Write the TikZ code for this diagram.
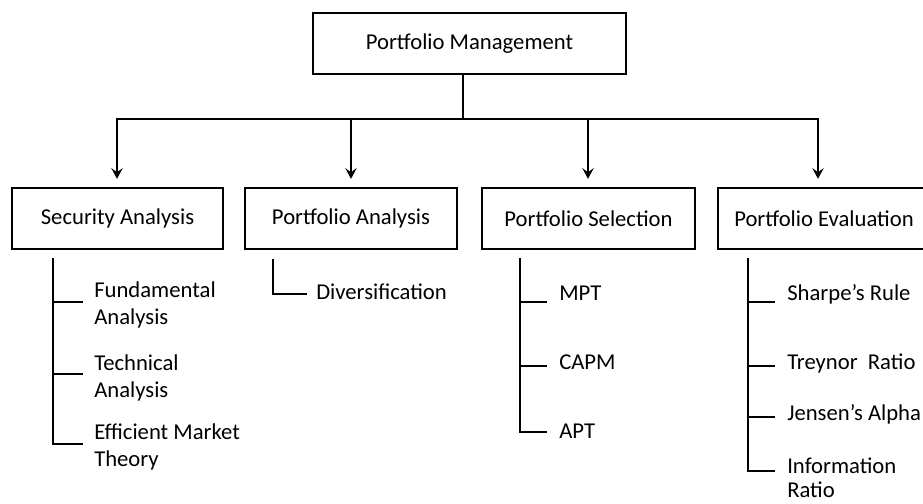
\documentclass[tikz,border=0pt]{standalone}
\usepackage{fontspec}
\setmainfont{Carlito}
\usetikzlibrary{arrows.meta}
\begin{document}
\begin{tikzpicture}[x=0.75pt,y=-0.75pt,
  box/.style={draw, line width=1.7pt, minimum height=45.75pt, inner sep=0pt,
              font=\fontsize{17}{20.5}\selectfont},
  lbl/.style={anchor=base west, inner sep=0pt, font=\fontsize{17}{20.5}\selectfont},
  conn/.style={line width=1.7pt, line join=miter},
  arr/.style={conn, -{Stealth[length=8pt,width=8.5pt,inset=3pt]}}]
\useasboundingbox (0,0) rectangle (923,503);
% boxes
\node[box, minimum width=234.75pt] (pm) at (469.5,43.5) {Portfolio Management};
\node[box, minimum width=158.25pt] (sa) at (117.5,218.5) {Security Analysis};
\node[box, minimum width=159pt] (pa) at (351,218.5) {Portfolio Analysis};
\node[box, minimum width=159.75pt] (ps) at (588.5,218.5) {Portfolio Selection};
\node[box, minimum width=159pt] (pe) at (824,218.5) {Portfolio Evaluation};
% bus and arrows
\coordinate (j) at (463,119);
\coordinate (b1) at (117,119);
\coordinate (b2) at (351,119);
\coordinate (b3) at (588,119);
\coordinate (b4) at (818,119);
\draw[conn] (pm.south -| j) -- (j);
\draw[arr] (j) -| ([yshift=6pt]b1 |- sa.north);
\draw[arr] (j) -| ([yshift=6pt]b4 |- pe.north);
\draw[arr] (b2) -- ([yshift=6pt]b2 |- pa.north);
\draw[arr] (b3) -- ([yshift=6pt]b3 |- ps.north);
% Security Analysis branch
\coordinate (s1) at (53,258);
\coordinate (t11) at (83,302);
\coordinate (t12) at (83,374);
\coordinate (t13) at (83,444);
\draw[conn] (s1) |- (t13);
\draw[conn] (s1 |- t11) -- (t11);
\draw[conn] (s1 |- t12) -- (t12);
\node[lbl] (fa) at (94,297) {\begin{tabular}[t]{@{}l@{}}Fundamental\\Analysis\end{tabular}};
\node[lbl] (ta) at (94,370) {\begin{tabular}[t]{@{}l@{}}Technical\\Analysis\end{tabular}};
\node[lbl] (emt) at (94,439) {\begin{tabular}[t]{@{}l@{}}Efficient Market\\Theory\end{tabular}};
% Portfolio Analysis branch
\coordinate (s2) at (273,259);
\coordinate (t21) at (307,294);
\draw[conn] (s2) |- (t21);
\node[lbl] (div) at (316,299) {Diversification};
% Portfolio Selection branch
\coordinate (s3) at (520,258);
\coordinate (t31) at (547,302);
\coordinate (t32) at (547,366);
\coordinate (t33) at (547,432);
\draw[conn] (s3) |- (t33);
\draw[conn] (s3 |- t31) -- (t31);
\draw[conn] (s3 |- t32) -- (t32);
\node[lbl] (mpt) at (559,300) {MPT};
\node[lbl] (capm) at (559,369) {CAPM};
\node[lbl] (apt) at (559,438) {APT};
% Portfolio Evaluation branch
\coordinate (s4) at (748,258);
\coordinate (t41) at (775,302);
\coordinate (t42) at (775,366);
\coordinate (t43) at (775,417);
\coordinate (t44) at (775,471);
\draw[conn] (s4) |- (t44);
\draw[conn] (s4 |- t41) -- (t41);
\draw[conn] (s4 |- t42) -- (t42);
\draw[conn] (s4 |- t43) -- (t43);
\node[lbl] (sr) at (787,300) {Sharpe’s Rule};
\node[lbl] (tr) at (787,369) {Treynor\ \ Ratio};
\node[lbl] (ja) at (787,420) {Jensen’s Alpha};
\node[lbl] (ir) at (787,473) {\begin{tabular}[t]{@{}l@{}}Information\\[-2pt]Ratio\end{tabular}};
\end{tikzpicture}
\end{document}
